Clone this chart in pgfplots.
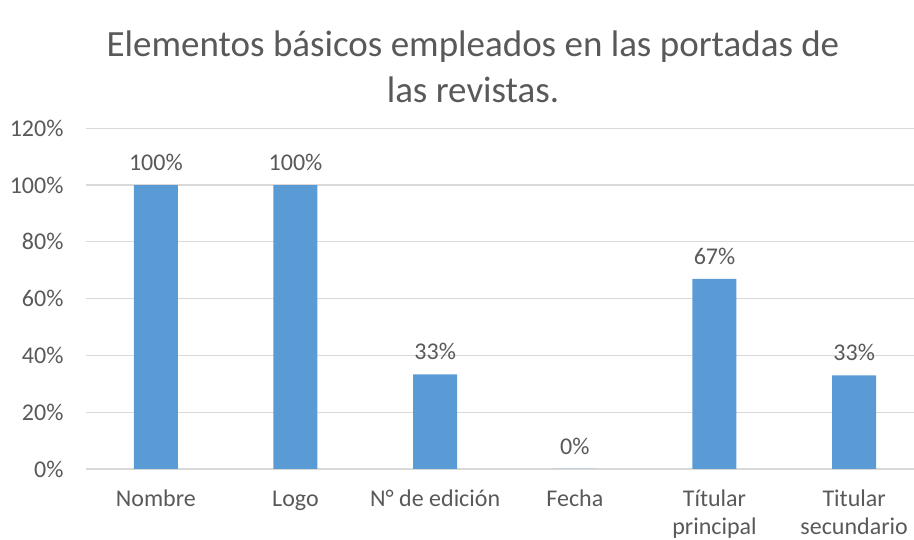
\documentclass[border=0pt]{standalone}
\usepackage{pgfplots}
\pgfplotsset{compat=1.18}
\usepackage{fontspec}
\setmainfont{Carlito}
\definecolor{barblue}{HTML}{5B9BD5}
\definecolor{gridgray}{HTML}{D9D9D9}
\definecolor{txt}{HTML}{595959}
\begin{document}
\begin{tikzpicture}[x=1pt,y=1pt]
\useasboundingbox (-86,-71) rectangle (828,469);
\begin{axis}[
  at={(0,0)}, anchor=south west,
  scale only axis, width=838pt, height=340.7pt,
  xmin=-0.5, xmax=5.5, ymin=0, ymax=120,
  axis line style={draw=none},
  ytick={0,20,...,120},
  yticklabel={\pgfmathprintnumber{\tick}\%},
  yticklabel style={font=\fontsize{24}{28}\selectfont, text=txt, xshift=-19pt},
  ymajorgrids, major grid style={gridgray, line width=1.2pt},
  tick style={draw=none},
  xtick=data,
  xticklabels={{\strut Nombre}, {\strut Logo}, {\strut N° de edición}, {\strut Fecha}, {\strut Títular\\principal}, {\strut Titular\\secundario}},
  xticklabel style={font=\fontsize{24}{28}\selectfont, text=txt, align=center, anchor=north, yshift=-14pt},
  /pgf/number format/assume math mode=true,
  clip=false,
]
\addplot[ybar, bar width=44pt, fill=barblue, draw=none,
  nodes near coords={\pgfmathprintnumber{\pgfplotspointmeta}\%},
  nodes near coords style={font=\fontsize{24}{28}\selectfont, text=txt, yshift=11pt},
  point meta=explicit symbolic]
  table[meta=m] {
x y m
0 100 100
1 100 100
2 33.3 33
3 0 0
4 67 67
5 33 33
};
\end{axis}
\node[align=center, text=txt, font=\fontsize{37}{46}\selectfont] at (387,402) {Elementos básicos empleados en las portadas de\\las revistas.};
\end{tikzpicture}
\end{document}
